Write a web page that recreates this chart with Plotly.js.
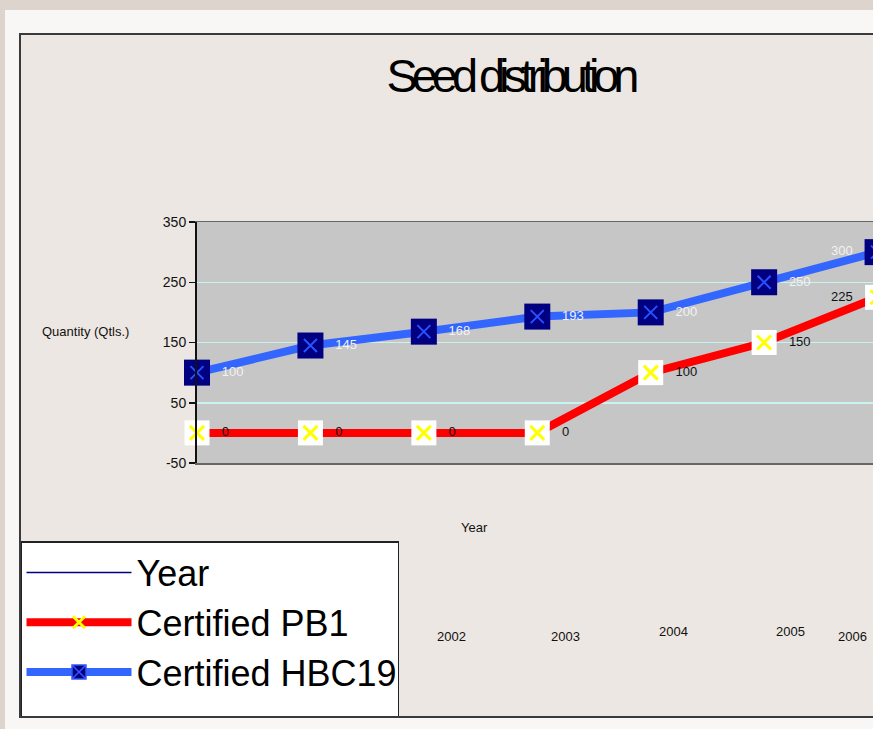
<!DOCTYPE html>
<html>
<head>
<meta charset="utf-8">
<script src="https://cdn.plot.ly/plotly-3.0.1.min.js"></script>
<style>
  html, body { margin:0; padding:0; width:873px; height:729px; overflow:hidden; background:#ddd4cd; }
  #frame { position:absolute; left:5px; top:10px; width:1000px; height:760px; background:#f8f7f6; }
  #chart { position:absolute; left:19px; top:33px; width:980px; height:681px; border:2px solid #3a3a3a; border-right:none; }
</style>
</head>
<body>
<div id="frame"></div>
<div id="chart"></div>
<script>
// ---- data ----
const years = [2000, 2001, 2002, 2003, 2004, 2005, 2006];
const certifiedPB1 = [0, 0, 0, 0, 100, 150, 225];
const certifiedHBC19 = [100, 145, 168, 193, 200, 250, 300];
const yTickValues = [-50, 50, 150, 250, 350];
const yearLabels = ['2002', '2003', '2004', '2005', '2006'];

// ---- layout helpers (page pixel -> paper) ----
const L = 176, T = 187, PW = 794, PH = 241, OX = 21, OY = 35;
const px = x => (x - OX - L) / PW;
const py = y => (OY + T + PH - y) / PH;

const sans = 'Liberation Sans, Arial, sans-serif';

const lastLeft = years.map((_, i) => i === years.length - 1 ? 'middle left' : 'middle right');

const traces = [
  { name: 'Year', x: [null], y: [null], mode: 'lines', line: { color: '#000080', width: 1.5 } },
  { name: 'Certified PB1', x: years, y: certifiedPB1, mode: 'lines+markers',
    line: { color: '#ff0000', width: 8 }, cliponaxis: false,
    marker: { symbol: 'x-thin-open', size: 12, color: '#ffff00', line: { color: '#ffff00', width: 3 } } },
  { name: 'Certified HBC19', x: years, y: certifiedHBC19, mode: 'lines+markers',
    line: { color: '#3366ff', width: 8 }, cliponaxis: false,
    marker: { symbol: 'square-x', size: 14, color: '#000080', line: { color: '#3355ff', width: 1.5 } } },
  // marker overlays
  { x: years, y: certifiedPB1, mode: 'markers', showlegend: false, hoverinfo: 'skip', cliponaxis: false,
    marker: { symbol: 'square', size: 25, color: '#ffffff' } },
  { x: years, y: certifiedPB1, mode: 'markers', showlegend: false, hoverinfo: 'skip', cliponaxis: false,
    marker: { symbol: 'x-thin-open', size: 14, color: '#ffff00', line: { color: '#ffff00', width: 3 } } },
  { x: years, y: certifiedHBC19, mode: 'markers', showlegend: false, hoverinfo: 'skip', cliponaxis: false,
    marker: { symbol: 'square', size: 26, color: '#000080' } },
  { x: years, y: certifiedHBC19, mode: 'markers', showlegend: false, hoverinfo: 'skip', cliponaxis: false,
    marker: { symbol: 'x-thin-open', size: 13, color: '#2a50ff', line: { color: '#2a50ff', width: 2 } } },
  // data labels
  { x: years, y: certifiedPB1, mode: 'markers+text', showlegend: false, hoverinfo: 'skip', cliponaxis: false,
    marker: { size: 38, color: 'rgba(0,0,0,0)' },
    text: certifiedPB1.map(String), textposition: lastLeft,
    textfont: { family: sans, size: 13, color: '#111111' } },
  { x: years, y: certifiedHBC19, mode: 'markers+text', showlegend: false, hoverinfo: 'skip', cliponaxis: false,
    marker: { size: 38, color: 'rgba(0,0,0,0)' },
    text: certifiedHBC19.map(String), textposition: lastLeft,
    textfont: { family: sans, size: 13, color: '#f2f2f2' } }
];

const yearPos = [[451, 636], [565, 636], [673, 631], [790, 631], [852, 636]];
const ann = (text, x, y) => ({ text: text, xref: 'paper', yref: 'paper', x: px(x), y: py(y),
  xanchor: 'center', yanchor: 'middle', showarrow: false, font: { family: sans, size: 13, color: '#111' } });
const annotations = yearLabels.map((t, i) => ann(t, yearPos[i][0], yearPos[i][1]));
annotations.push(ann('Quantity (Qtls.)', 85, 331));
annotations.push(ann('Year', 474, 527));

const layout = {
  width: 980, height: 681,
  margin: { l: L, t: T, r: 980 - L - PW, b: 681 - T - PH, autoexpand: false },
  paper_bgcolor: '#ece7e2',
  plot_bgcolor: '#c6c6c6',
  title: { text: 'Seed distribution', x: (513 - OX) / 980, xanchor: 'center',
    y: 1 - (76 - OY) / 681, yanchor: 'middle',
    font: { family: sans, size: 47, color: '#000' } },
  xaxis: { range: [2000, 2007], showticklabels: false, ticks: '', showgrid: false, zeroline: false,
    showline: true, mirror: true, linecolor: '#666', linewidth: 1.5, fixedrange: true, automargin: false },
  yaxis: { range: [-50, 350], tickvals: yTickValues, ticktext: yTickValues.map(String),
    ticks: 'outside', ticklen: 6, tickcolor: '#111', tickwidth: 1.5, automargin: false,
    showline: true, linecolor: '#111', linewidth: 2, zeroline: false,
    showgrid: true, gridcolor: '#c8f4f0', gridwidth: 1.5,
    tickfont: { family: sans, size: 14, color: '#111' } },
  showlegend: true,
  legend: { x: px(20), xanchor: 'left', y: py(541), yanchor: 'top',
    bgcolor: '#ffffff', bordercolor: '#222', borderwidth: 1.5,
    font: { family: sans, size: 36, color: '#000' }, itemwidth: 105, tracegroupgap: 0,
    traceorder: 'normal' },
  annotations: annotations
};

Plotly.newPlot('chart', traces, layout, { displayModeBar: false, staticPlot: true }).then(gd => {
  const t = gd.querySelector('.gtitle');
  if (t) { t.setAttribute('textLength', '253'); t.setAttribute('lengthAdjust', 'spacing'); }
  const bg = gd.querySelector('.legend rect.bg');
  if (bg) {
    const h = parseFloat(bg.getAttribute('height'));
    const w = parseFloat(bg.getAttribute('width'));
    bg.setAttribute('height', String(h + 14));
    bg.setAttribute('width', String(w - 5));
  }
});
</script>
</body>
</html>
